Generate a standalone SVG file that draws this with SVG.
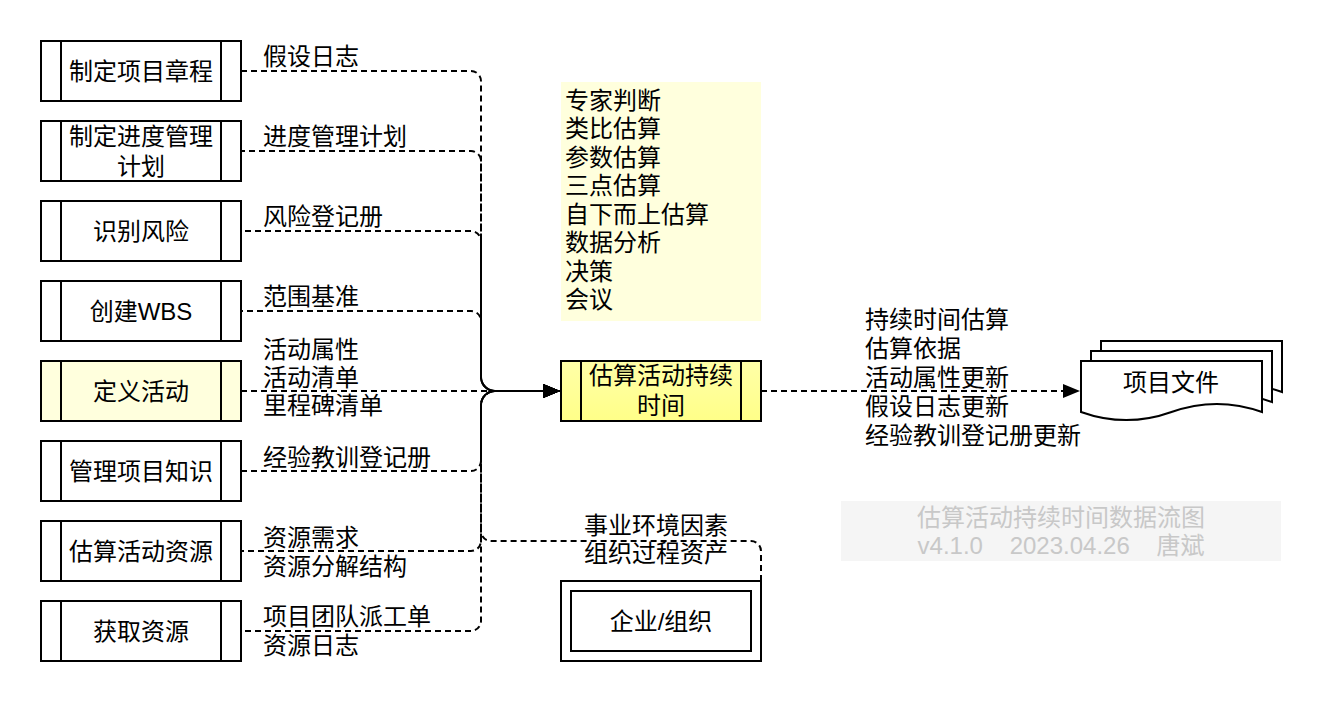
<svg xmlns="http://www.w3.org/2000/svg" width="1322" height="702" viewBox="0 0 1322 702">
<style>
text{font-family:"Liberation Sans","Noto Sans CJK SC",sans-serif;font-size:24px;fill:#000}
.c{text-anchor:middle}
.box{fill:#fff;stroke:#000;stroke-width:2}
.ln{stroke:#000;stroke-width:2}
.e{fill:none;stroke:#000;stroke-width:2;stroke-dasharray:6 4}
.wm{fill:#c8c8c8}
</style>
<defs>
<marker id="arr" markerUnits="userSpaceOnUse" viewBox="0 0 17 14" refX="17" refY="7" markerWidth="17" markerHeight="14" orient="auto">
<path d="M0,0 L17,7 L0,14 Z" fill="#000" stroke="none"/>
</marker>
<linearGradient id="yg" x1="0" y1="0" x2="0" y2="1">
<stop offset="0" stop-color="#ffffa8"/>
<stop offset="1" stop-color="#ffff88"/>
</linearGradient>
</defs>
<rect width="1322" height="702" fill="#fff"/>

<g id="connectors">
<path class="e" style="stroke-dashoffset:0" d="M241,71 H471 A10,10 0 0 1 481,81 V377 A14,14 0 0 0 495,391 H560" marker-end="url(#arr)"/>
<path class="e" style="stroke-dashoffset:2" d="M241,151 H471 A10,10 0 0 1 481,161 V377 A14,14 0 0 0 495,391 H560" marker-end="url(#arr)"/>
<path class="e" style="stroke-dashoffset:6" d="M241,231 H471 A10,10 0 0 1 481,241 V377 A14,14 0 0 0 495,391 H560" marker-end="url(#arr)"/>
<path class="e" style="stroke-dashoffset:4" d="M241,311 H471 A10,10 0 0 1 481,321 V377 A14,14 0 0 0 495,391 H560" marker-end="url(#arr)"/>
<path class="e" d="M241,391 H560" marker-end="url(#arr)"/>
<path class="e" style="stroke-dashoffset:0" d="M241,471 H471 A10,10 0 0 0 481,461 V405 A14,14 0 0 1 495,391 H560" marker-end="url(#arr)"/>
<path class="e" style="stroke-dashoffset:3" d="M241,551 H471 A10,10 0 0 0 481,541 V405 A14,14 0 0 1 495,391 H560" marker-end="url(#arr)"/>
<path class="e" style="stroke-dashoffset:6" d="M241,631 H471 A10,10 0 0 0 481,621 V405 A14,14 0 0 1 495,391 H560" marker-end="url(#arr)"/>
<path class="e" d="M761,581 V551 A10,10 0 0 0 751,541 H491 A10,10 0 0 1 481,531 V405 A14,14 0 0 1 495,391 H560" marker-end="url(#arr)"/>
<path class="e" d="M761,391 H1080" marker-end="url(#arr)"/>
<text x="263" y="64.5">假设日志</text>
<text x="263" y="144.5">进度管理计划</text>
<text x="263" y="224.5">风险登记册</text>
<text x="263" y="304.5">范围基准</text>
<text x="263" y="357.5">活动属性</text>
<text x="263" y="385.5">活动清单</text>
<text x="263" y="413.5">里程碑清单</text>
<text x="263" y="465.5">经验教训登记册</text>
<text x="263" y="545.5">资源需求</text>
<text x="263" y="574.5">资源分解结构</text>
<text x="263" y="624.5">项目团队派工单</text>
<text x="263" y="653.5">资源日志</text>
<text class="c" x="656" y="533.5">事业环境因素</text>
<text class="c" x="656" y="561.5">组织过程资产</text>
<text x="865" y="327.5">持续时间估算</text>
<text x="865" y="356.5">估算依据</text>
<text x="865" y="385.5">活动属性更新</text>
<text x="865" y="414.5">假设日志更新</text>
<text x="865" y="443.5">经验教训登记册更新</text>
</g>

<g id="n1"><rect class="box" x="41" y="41" width="200" height="60"/><path class="ln" d="M61,41 V101 M221,41 V101"/><text class="c" x="141" y="79.5">制定项目章程</text></g>
<g id="n2"><rect class="box" x="41" y="121" width="200" height="60"/><path class="ln" d="M61,121 V181 M221,121 V181"/><text class="c" x="141" y="144.5">制定进度管理</text><text class="c" x="141" y="174.5">计划</text></g>
<g id="n3"><rect class="box" x="41" y="201" width="200" height="60"/><path class="ln" d="M61,201 V261 M221,201 V261"/><text class="c" x="141" y="239.5">识别风险</text></g>
<g id="n4"><rect class="box" x="41" y="281" width="200" height="60"/><path class="ln" d="M61,281 V341 M221,281 V341"/><text class="c" x="141" y="319.5">创建WBS</text></g>
<g id="n5"><rect class="box" x="41" y="361" width="200" height="60" style="fill:#ffffdd"/><path class="ln" d="M61,361 V421 M221,361 V421"/><text class="c" x="141" y="399.5">定义活动</text></g>
<g id="n6"><rect class="box" x="41" y="441" width="200" height="60"/><path class="ln" d="M61,441 V501 M221,441 V501"/><text class="c" x="141" y="479.5">管理项目知识</text></g>
<g id="n7"><rect class="box" x="41" y="521" width="200" height="60"/><path class="ln" d="M61,521 V581 M221,521 V581"/><text class="c" x="141" y="559.5">估算活动资源</text></g>
<g id="n8"><rect class="box" x="41" y="601" width="200" height="60"/><path class="ln" d="M61,601 V661 M221,601 V661"/><text class="c" x="141" y="639.5">获取资源</text></g>

<g id="tools">
<rect x="561" y="82" width="200" height="239" fill="#ffffdd"/>
<text x="565" y="108.5">专家判断</text>
<text x="565" y="137">类比估算</text>
<text x="565" y="165.5">参数估算</text>
<text x="565" y="194">三点估算</text>
<text x="565" y="222.5">自下而上估算</text>
<text x="565" y="251">数据分析</text>
<text x="565" y="279.5">决策</text>
<text x="565" y="308">会议</text>
</g>

<g id="target"><rect x="561" y="361" width="200" height="60" fill="url(#yg)" stroke="#000" stroke-width="2"/><path class="ln" d="M581,361 V421 M741,361 V421"/><text class="c" x="661" y="383.5">估算活动持续</text><text class="c" x="661" y="413.5">时间</text></g>

<g id="enterprise"><rect class="box" x="561" y="581" width="200" height="80"/><rect class="box" x="571" y="591" width="180" height="60"/><text class="c" x="661" y="629.5">企业/组织</text></g>

<g id="docs">
<path class="box" d="M1101,341 H1282 V392 Q1236.75,375.8 1191.5,392 Q1146.25,408.2 1101,392 Z"/>
<path class="box" d="M1091,351 H1272 V402 Q1226.75,385.8 1181.5,402 Q1136.25,418.2 1091,402 Z"/>
<path class="box" d="M1081,361 H1262 V412 Q1216.75,395.8 1171.5,412 Q1126.25,428.2 1081,412 Z"/>
<text class="c" x="1171" y="390.5">项目文件</text>
</g>

<g id="watermark">
<rect x="841" y="501" width="440" height="60" fill="#f5f5f5"/>
<text class="c wm" x="1061" y="525.5">估算活动持续时间数据流图</text>
<text class="c wm" x="1061" y="553.5" xml:space="preserve">v4.1.0    2023.04.26    唐斌</text>
</g>
</svg>
